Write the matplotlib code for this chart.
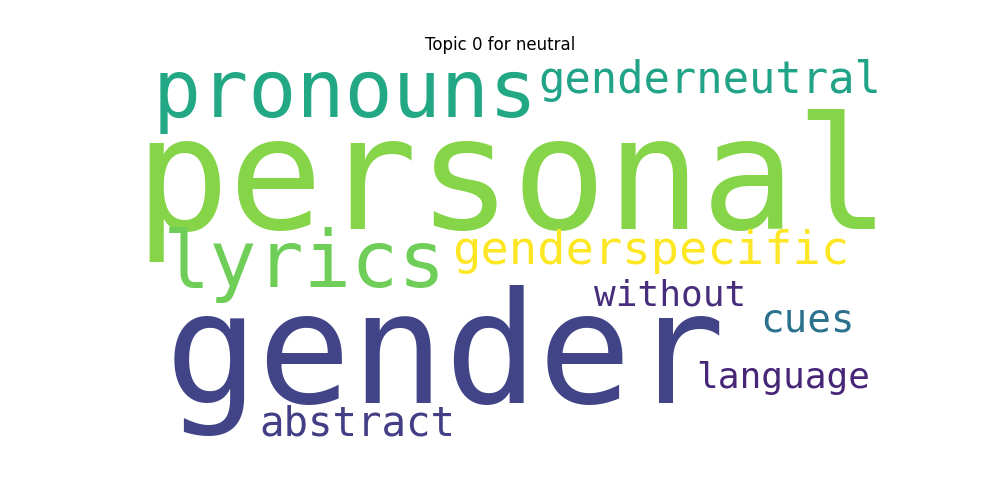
import matplotlib
matplotlib.use("Agg")
import matplotlib.pyplot as plt

# ── Word cloud data ──────────────────────────────────────────────────────────
words   = ["personal", "gender", "pronouns", "lyrics", "genderspecific",
           "genderneutral", "abstract", "cues", "without", "language"]
weights = [1.00, 0.99, 0.51, 0.50, 0.30, 0.28, 0.26, 0.25, 0.23, 0.23]
colors  = ["#86d549", "#414487", "#22a884", "#6ece58", "#fde725",
           "#20a386", "#433e85", "#2c728e", "#472d7b", "#482677"]

# layout (pixel centres in a 1000x500 canvas)
pos_x = [512, 445, 345, 305, 651, 710, 357, 807, 670, 783]
pos_y = [185, 360, 95, 265, 252, 80, 425, 320, 296, 378]

MAX_FONT = 113

fig = plt.figure(figsize=(10, 5), dpi=100, facecolor="white")
ax = fig.add_axes([0, 0, 1, 1])
ax.set_xlim(0, 1000)
ax.set_ylim(500, 0)
ax.axis("off")

for w, s, c, x, y in zip(words, weights, colors, pos_x, pos_y):
    ax.text(x, y, w, fontsize=s * MAX_FONT, color=c, family="DejaVu Sans Mono",
            ha="center", va="center")

fig.text(0.5, 0.91, "Topic 0 for neutral", ha="center", va="center", fontsize=12)

fig.savefig("out.png", dpi=100)
